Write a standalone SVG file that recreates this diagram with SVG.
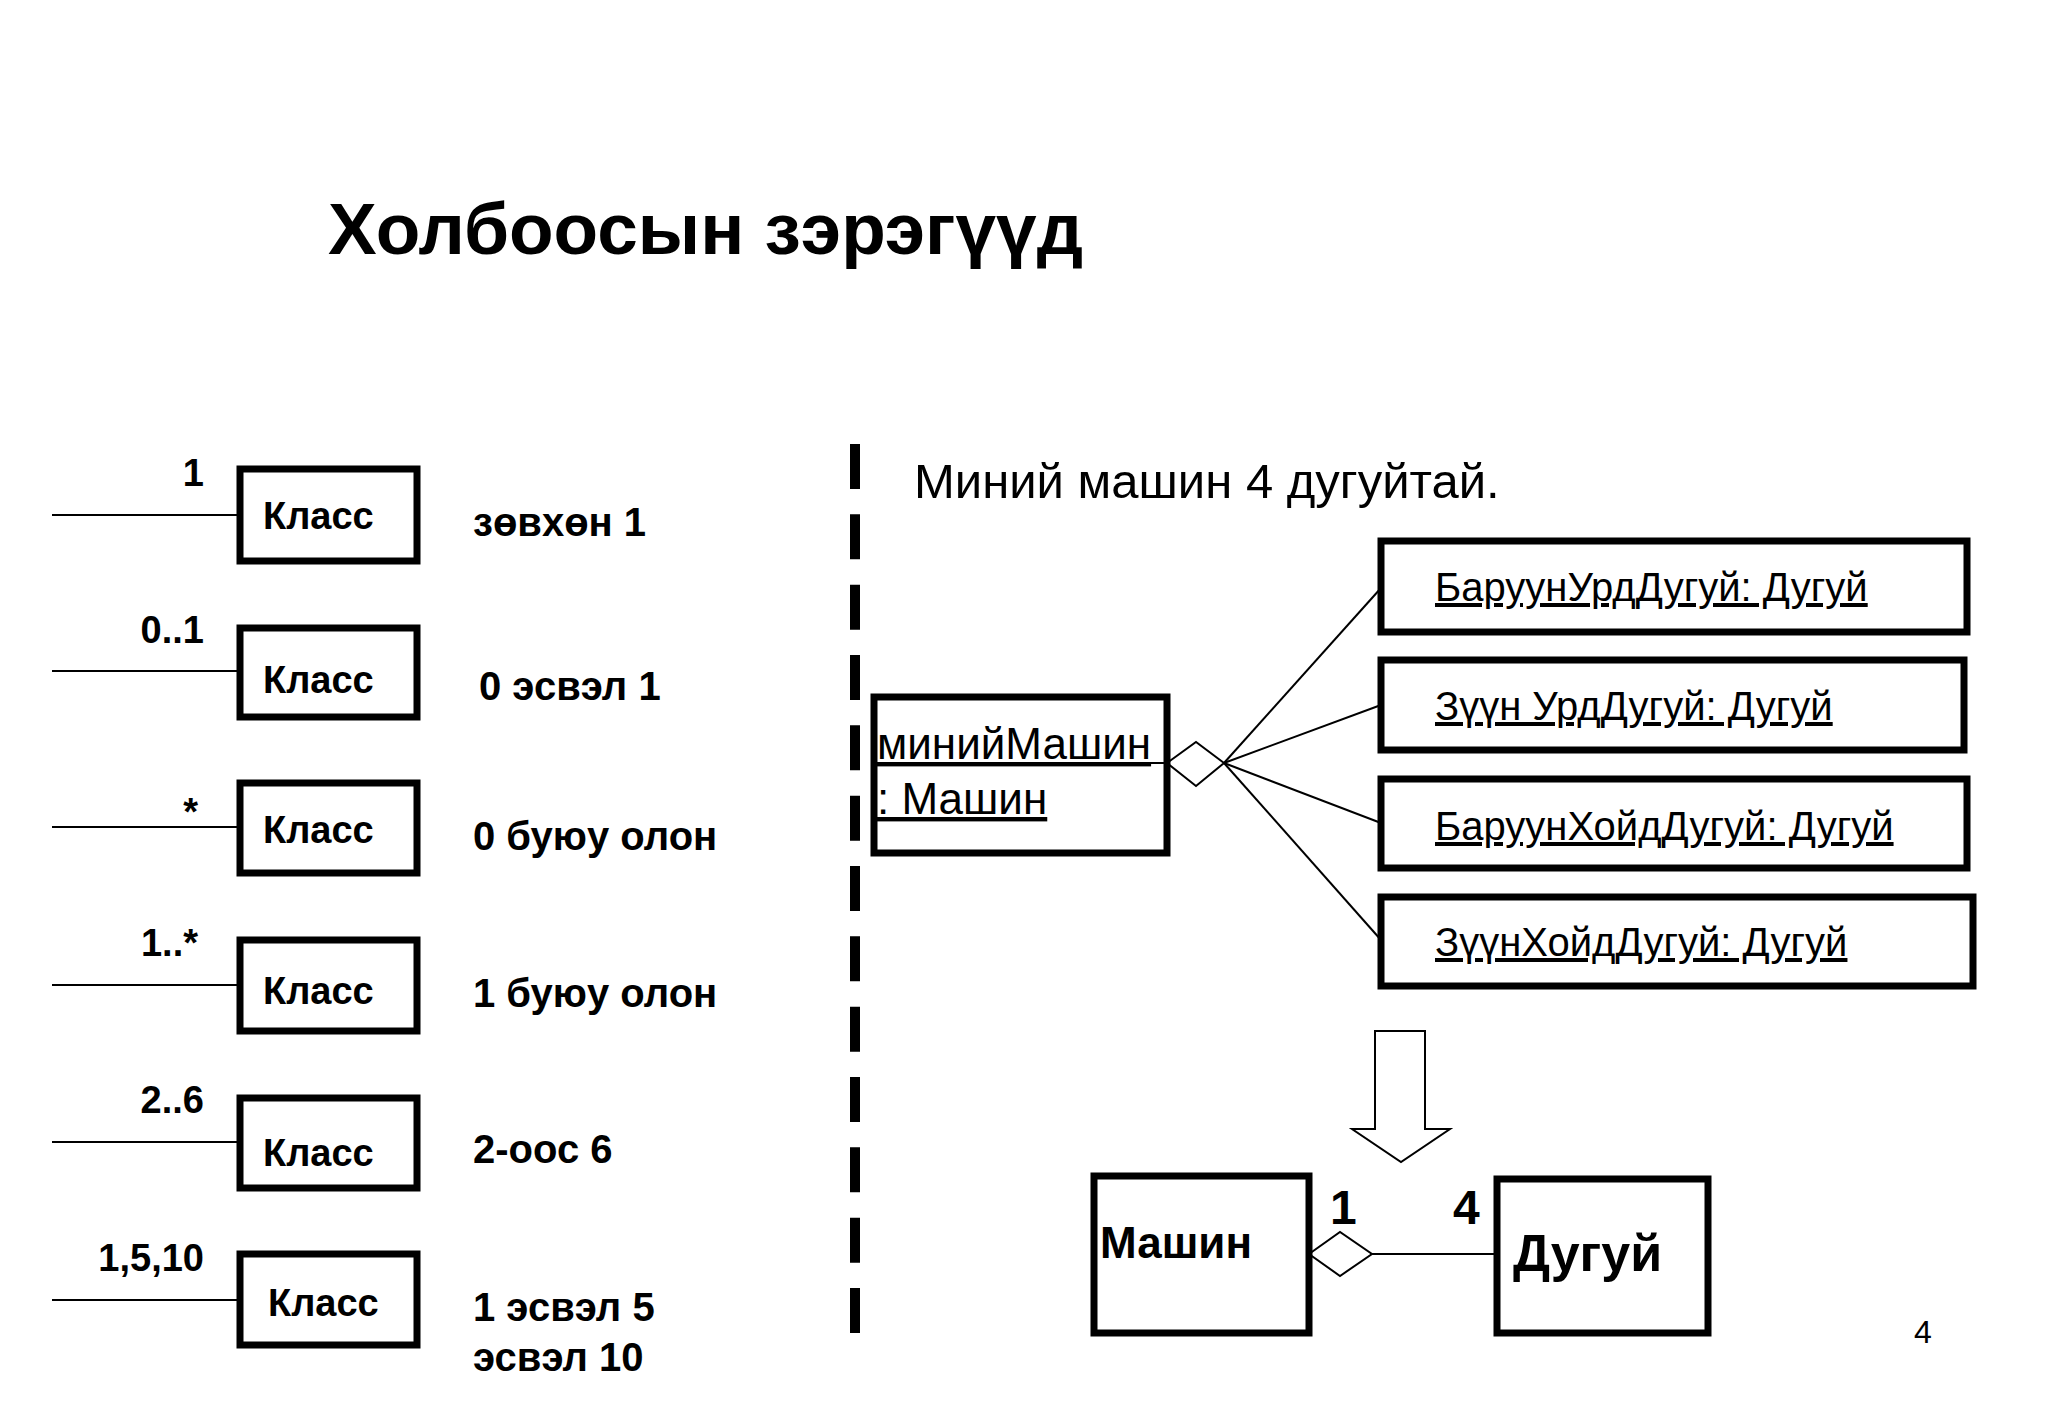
<svg xmlns="http://www.w3.org/2000/svg" width="2048" height="1418" viewBox="0 0 2048 1418">
<style>
text{font-family:"Liberation Sans",Arial,sans-serif;fill:#000}
.b{font-weight:bold}
.box{fill:#fff;stroke:#000;stroke-width:7}
.ln{stroke:#000;stroke-width:2;fill:none}
.k{font-size:38px;font-weight:bold}
.m{font-size:38px;font-weight:bold;text-anchor:end}
.d{font-size:40px;font-weight:bold}
.w{font-size:40px;text-decoration:underline}
</style>
<rect width="2048" height="1418" fill="#fff"/>
<text x="328" y="254" class="b" font-size="73">Холбоосын зэрэгүүд</text>
<g id="connectors">
<line class="ln" x1="52" y1="515" x2="240" y2="515"/>
<line class="ln" x1="52" y1="671" x2="240" y2="671"/>
<line class="ln" x1="52" y1="827" x2="240" y2="827"/>
<line class="ln" x1="52" y1="985" x2="240" y2="985"/>
<line class="ln" x1="52" y1="1142" x2="240" y2="1142"/>
<line class="ln" x1="52" y1="1300" x2="240" y2="1300"/>
<line x1="855" y1="444" x2="855" y2="1333" stroke="#000" stroke-width="10" stroke-dasharray="45 25.33"/>
<line class="ln" x1="1224" y1="763" x2="1381" y2="588"/>
<line class="ln" x1="1224" y1="763" x2="1381" y2="705"/>
<line class="ln" x1="1224" y1="763" x2="1381" y2="823"/>
<line class="ln" x1="1224" y1="763" x2="1381" y2="940"/>
<polygon class="ln" points="1167,763 1196,742 1224,763 1196,786" fill="#fff"/>
<line class="ln" x1="1372" y1="1254" x2="1497" y2="1254"/>
<polygon class="ln" points="1309,1254 1340,1232 1372,1254 1340,1276" fill="#fff"/>
<polygon class="ln" points="1375,1031 1425,1031 1425,1129 1450,1129 1401,1162 1352,1129 1375,1129" fill="#fff"/>
</g>
<g id="multiplicities">
<text x="204" y="486" class="m">1</text>
<text x="204" y="643" class="m">0..1</text>
<text x="198" y="825" class="m">*</text>
<text x="198" y="956" class="m">1..*</text>
<text x="204" y="1113" class="m">2..6</text>
<text x="204" y="1271" class="m">1,5,10</text>
</g>
<g id="k1"><rect class="box" x="240" y="469" width="177" height="92"/><text x="263" y="529" class="k">Класс</text></g>
<g id="k2"><rect class="box" x="240" y="628" width="177" height="89"/><text x="263" y="693" class="k">Класс</text></g>
<g id="k3"><rect class="box" x="240" y="783" width="177" height="90"/><text x="263" y="843" class="k">Класс</text></g>
<g id="k4"><rect class="box" x="240" y="940" width="177" height="91"/><text x="263" y="1004" class="k">Класс</text></g>
<g id="k5"><rect class="box" x="240" y="1098" width="177" height="90"/><text x="263" y="1166" class="k">Класс</text></g>
<g id="k6"><rect class="box" x="240" y="1254" width="177" height="91"/><text x="268" y="1316" class="k">Класс</text></g>
<g id="descriptions">
<text x="473" y="536" class="d">зөвхөн 1</text>
<text x="479" y="700" class="d">0 эсвэл 1</text>
<text x="473" y="850" class="d">0 буюу олон</text>
<text x="473" y="1007" class="d">1 буюу олон</text>
<text x="473" y="1163" class="d">2-оос 6</text>
<text x="473" y="1321" class="d">1 эсвэл 5</text>
<text x="473" y="1371" class="d">эсвэл 10</text>
</g>
<text x="914" y="498" font-size="49">Миний машин 4 дугуйтай.</text>
<g id="myCar">
<rect class="box" x="874" y="697" width="293" height="156"/>
<line class="ln" x1="874" y1="763" x2="1167" y2="763"/>
<text x="877" y="759" font-size="44" text-decoration="underline">минийМашин</text>
<text x="877" y="814" font-size="44" text-decoration="underline">: Машин</text>
</g>
<g id="w1"><rect class="box" x="1381" y="541" width="586" height="91"/><text x="1435" y="601" class="w">БаруунУрдДугуй: Дугуй</text></g>
<g id="w2"><rect class="box" x="1381" y="660" width="583" height="90"/><text x="1435" y="720" class="w" font-size="46">Зүүн УрдДугуй: Дугуй</text></g>
<g id="w3"><rect class="box" x="1381" y="779" width="586" height="89"/><text x="1435" y="840" class="w">БаруунХойдДугуй: Дугуй</text></g>
<g id="w4"><rect class="box" x="1381" y="897" width="592" height="89"/><text x="1435" y="956" class="w">ЗүүнХойдДугуй: Дугуй</text></g>
<g id="car"><rect class="box" x="1094" y="1176" width="215" height="157"/><text x="1100" y="1258" class="b" font-size="44">Машин</text></g>
<g id="wheel"><rect class="box" x="1497" y="1179" width="211" height="154"/><text x="1513" y="1271" class="b" font-size="52">Дугуй</text></g>
<text x="1330" y="1224" class="b" font-size="48">1</text>
<text x="1453" y="1224" class="b" font-size="48">4</text>
<text x="1914" y="1343" font-size="32">4</text>
</svg>
